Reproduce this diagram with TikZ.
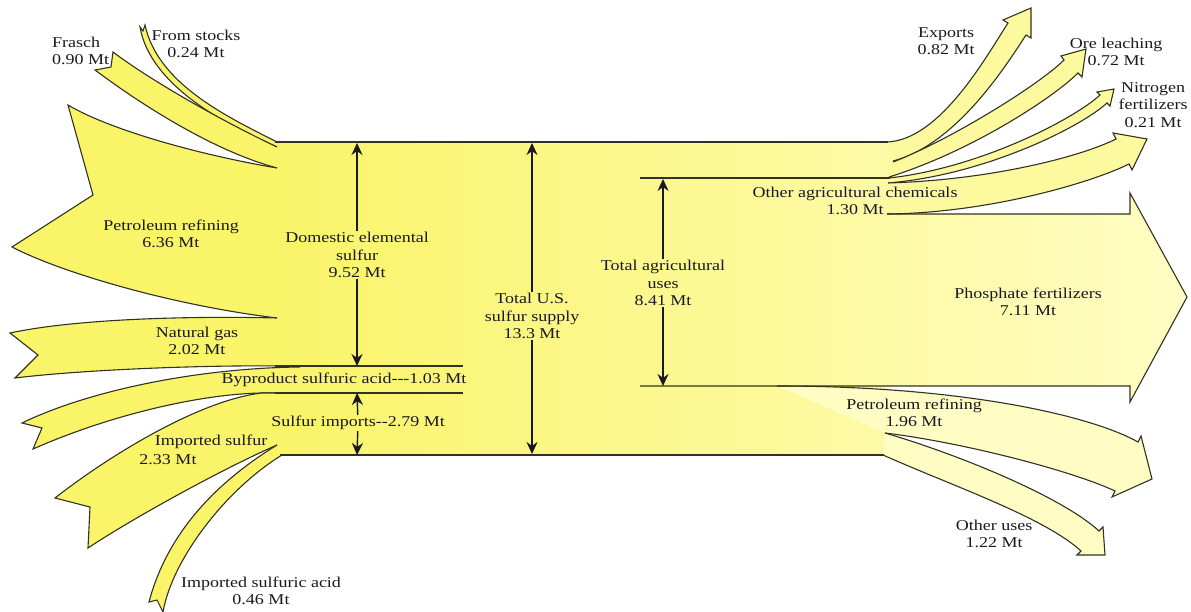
\documentclass[tikz,border=0pt]{standalone}
\usepackage{fontspec}
\setmainfont{Liberation Serif}[FakeStretch=1.2]
\usetikzlibrary{arrows.meta}
\definecolor{sulfurdeep}{RGB}{250,244,105}
\definecolor{sulfurmid}{RGB}{252,249,158}
\definecolor{sulfurpale}{RGB}{255,253,196}
\definecolor{rimline}{RGB}{50,50,35}
\definecolor{inkdark}{RGB}{25,25,35}
\newcommand{\dashhy}{\mbox{-}}

\begin{document}
\begin{tikzpicture}[x=1pt, y=-1pt, font=\fontsize{15}{17.5}\selectfont]
        \tikzstyle{every node}=[text=inkdark, align=center, inner sep=1pt]
        \tikzstyle{rim}=[draw=rimline, line width=1.1pt]
        \tikzstyle{flowin}=[rim, fill=sulfurdeep]
        \tikzstyle{flowup}=[rim, fill=sulfurmid]
        \tikzstyle{flowout}=[rim, fill=sulfurpale]
        \tikzstyle{dimline}=[draw=inkdark, line width=1.4pt, -{Stealth[length=12pt,width=11pt]}]
        \useasboundingbox (0,0) rectangle (1191,612);

        % main band with the phosphate head
        \shade[left color=sulfurdeep, right color=sulfurpale] (275,142) -- (888,142) -- (897,150) -- (897,214) -- (1130,214) -- (1130,193) -- (1187,297) -- (1130,402) -- (1130,386) -- (886,386) -- (886,455) -- (275,455) -- cycle;

        % sources (open paths, the side on the band is not stroked)
        \filldraw[flowin] (277,142) .. controls (230,118) and (158,85) .. (145,25) -- (143,31) -- (140,27) .. controls (150,85) and (225,125) .. (277,147);
        \filldraw[flowin] (277,147) .. controls (220,120) and (150,80) .. (113,52) -- (111,67) -- (95,70) .. controls (135,100) and (210,150) .. (277,168);
        \filldraw[flowin] (277,168) .. controls (200,155) and (110,130) .. (68,105) -- (93,195) -- (12,247) .. controls (60,272) and (170,305) .. (277,318);
        \filldraw[flowin] (277,318) .. controls (200,316) and (80,318) .. (10,333) -- (38,355) -- (15,378) .. controls (80,370) and (200,365) .. (280,366);
        \filldraw[flowin] (300,367) .. controls (200,368) and (90,390) .. (22,423) -- (42,428) -- (33,449) .. controls (110,415) and (200,394) .. (262,393) -- (278,393);
        \filldraw[flowin] (278,393) -- (262,393) .. controls (200,400) and (110,455) .. (55,498) -- (90,507) -- (88,548) .. controls (130,520) and (220,470) .. (277,445);
        \filldraw[flowin] (277,445) .. controls (220,480) and (168,530) .. (149,602) -- (157,600) -- (163,612) .. controls (172,560) and (225,490) .. (282,455);

        % uses
        \filldraw[flowup] (887,142) .. controls (940,140) and (986,57) .. (1008,23) -- (1003,20) -- (1031,8) -- (1031,38) -- (1026,35) .. controls (1004,69) and (955,145) .. (893,161);
        \filldraw[flowup] (893,162) .. controls (950,140) and (1039,85) .. (1064,60) -- (1061,56) -- (1086,49) -- (1082,77) -- (1078,73) .. controls (1053,98) and (970,152) .. (889,177);
        \filldraw[flowup] (889,178) .. controls (980,168) and (1074,119) .. (1100,95) -- (1097,92) -- (1114,89) -- (1110,106) -- (1107,103) .. controls (1081,127) and (985,175) .. (888,183);
        \filldraw[flowup] (888,183) .. controls (990,180) and (1080,157) .. (1116,139) -- (1113,133) -- (1147,139) -- (1132,170) -- (1129,164) .. controls (1093,182) and (990,213) .. (887,214);
        \filldraw[flowout] (777,386) .. controls (960,386) and (1090,415) .. (1138,442) -- (1141,436) -- (1152,479) -- (1112,497) -- (1115,491) .. controls (1070,470) and (960,442) .. (885,433);
        \filldraw[flowout] (885,433) .. controls (960,455) and (1062,497) .. (1099,531) -- (1103,527) -- (1105,555) -- (1077,555) -- (1081,551) .. controls (1044,517) and (950,485) .. (883,455);

        % band edges and dividing lines
        \draw[rim] (275,142) -- (888,142);
        \draw[rim] (280,455) -- (884,455);
        \draw[rim] (275,366) -- (463,366);
        \draw[rim] (275,393) -- (463,393);
        \draw[rim] (640,178) -- (890,178);
        \draw[rim] (887,214) -- (1130,214) -- (1130,193) -- (1187,297) -- (1130,402) -- (1130,386) -- (640,386);

        % measures
        \node (domlbl) at (357,255) {Domestic elemental\\sulfur\\9.52 Mt};
        \coordinate (domtop) at (357,143);
        \coordinate (dombot) at (357,366);
        \draw[dimline] (domlbl) -- (domtop);
        \draw[dimline] (domlbl) -- (dombot);
        \node (implbl) at (358,423) {Sulfur imports\dashhy\dashhy2.79 Mt};
        \coordinate (imptop) at (357,393);
        \coordinate (impbot) at (357,455);
        \draw[dimline] (implbl) -- (imptop);
        \draw[dimline] (implbl) -- (impbot);
        \node (totlbl) at (532,316) {Total U.S.\\sulfur supply\\13.3 Mt};
        \coordinate (tottop) at (532,143);
        \coordinate (totbot) at (532,454);
        \draw[dimline] (totlbl) -- (tottop);
        \draw[dimline] (totlbl) -- (totbot);
        \node (aglbl) at (663,283) {Total agricultural\\uses\\8.41 Mt};
        \coordinate (agtop) at (663,179);
        \coordinate (agbot) at (663,386);
        \draw[dimline] (aglbl) -- (agtop);
        \draw[dimline] (aglbl) -- (agbot);

        % flow labels
        \node (frasch) [anchor=west, align=left] at (51,51) {Frasch\\0.90 Mt};
        \node (stocks) at (196,44) {From stocks\\0.24 Mt};
        \node (petin) at (171,234) {Petroleum refining\\6.36 Mt};
        \node (natgas) at (197,341) {Natural gas\\2.02 Mt};
        \node (byprod) at (344,380) {Byproduct sulfuric acid\dashhy\dashhy\dashhy1.03 Mt};
        \node (impsulf) at (211,442) {Imported sulfur};
        \node (impsulfval) at (168,460) {2.33 Mt};
        \node (impacid) at (261,591) {Imported sulfuric acid\\0.46 Mt};
        \node (otherag) at (855,201) {Other agricultural chemicals\\1.30 Mt};
        \node (phos) at (1028,302) {Phosphate fertilizers\\7.11 Mt};
        \node (petout) at (914,413) {Petroleum refining\\1.96 Mt};
        \node (otheruse) at (994,534) {Other uses\\1.22 Mt};
        \node (exports) at (946,41) {Exports\\0.82 Mt};
        \node (ore) at (1116,52) {Ore leaching\\0.72 Mt};
        \node (nitro) at (1153,105) {Nitrogen\\fertilizers\\0.21 Mt};
    \end{tikzpicture}
\end{document}
